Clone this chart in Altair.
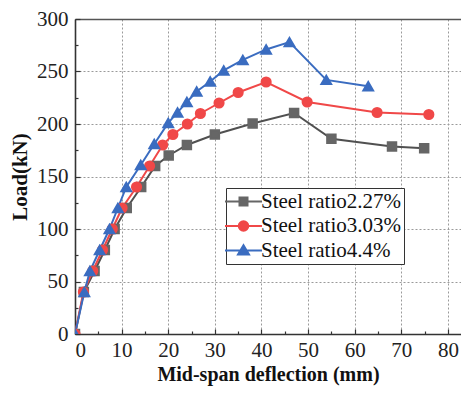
import altair as alt
import pandas as pd

series_names = ["Steel ratio2.27%", "Steel ratio3.03%", "Steel ratio4.4%"]

gray_x = [0, 1.9, 4.2, 6.4, 8.5, 11.1, 14.2, 17.2, 20.1, 24.0, 30.0, 38.1, 47.0, 55.0, 68.0, 74.9]
gray_y = [0, 40, 60, 80, 100, 120, 140, 160, 170, 180, 190, 200.5, 210.5, 186, 178.5, 176.8]

red_x = [0, 1.8, 3.8, 5.9, 8.0, 10.1, 13.2, 16.0, 18.8, 21.0, 24.1, 26.9, 30.9, 35.0, 41.0, 49.8, 64.8, 75.9]
red_y = [0, 40, 60, 80, 100, 120, 140, 160, 180, 190, 200, 210, 220, 230, 240, 221, 211, 209]

blue_x = [0, 2.0, 3.2, 5.3, 7.4, 9.2, 11.0, 14.1, 17.0, 20.0, 22.0, 24.0, 26.1, 29.0, 31.9, 36.0, 41.0, 46.0, 53.9, 62.9]
blue_y = [0, 40, 60, 80, 100, 120, 140, 161, 181, 201, 211, 221, 231, 240.5, 251, 261, 271, 278, 242, 236]

x_major = [0, 10, 20, 30, 40, 50, 60, 70, 80]
x_minor = [5, 15, 25, 35, 45, 55, 65, 75]
y_major = [0, 50, 100, 150, 200, 250, 300]
y_minor = [25, 75, 125, 175, 225, 275]

rows = []
for name, xv, yv in zip(series_names, [gray_x, red_x, blue_x], [gray_y, red_y, blue_y]):
    for i, (a, b) in enumerate(zip(xv, yv)):
        rows.append({"series": name, "line_series": name, "shape_series": name,
                     "size_series": name, "x": a, "y": b, "i": i})
df = pd.DataFrame(rows)

W, H = 386, 315
FONT = "Liberation Serif"

xs = alt.Scale(domain=[0, 82.8], nice=False, zero=False)
ys = alt.Scale(domain=[0, 300], nice=False, zero=False)

line_colors = ["#505050", "#f04848", "#3a6cc0"]
point_colors = ["#666666", "#f04848", "#3a6cc0"]
color_scale = alt.Scale(domain=series_names, range=point_colors)
line_color_scale = alt.Scale(range=line_colors)
shape_scale = alt.Scale(range=["square", "circle", "triangle-up"])
size_scale = alt.Scale(range=[72, 95, 105])

shape_expr = (
    "datum.value == '" + series_names[0] + "' ? 'M-3.7,0H3.7M-0.8,-0.8H0.8V0.8H-0.8Z' : "
    "datum.value == '" + series_names[1] + "' ? 'M-3.7,0H3.7M-0.95,0A0.95,0.95,0,1,1,0.95,0A0.95,0.95,0,1,1,-0.95,0Z' : "
    "'M-3.7,0H3.7M0,-1.05L1.1,0.8H-1.1Z'"
)

legend = alt.Legend(
    title=None, orient="none", legendX=151, legendY=169,
    labelFont=FONT, labelFontSize=21, labelColor="#111111", labelLimit=400,
    symbolType=alt.ExprRef(shape_expr),
    symbolSize=100, symbolStrokeWidth=2, symbolOffset=4, labelOffset=7,
    rowPadding=2.5, padding=3, strokeColor="#333333", fillColor="white",
)

bottom_axis = alt.Axis(
    orient="bottom", values=x_major, format="d",
    grid=True, gridColor="#9a9a9a", gridDash=[2, 2], gridWidth=1,
    ticks=False, domainColor="#333333", domainWidth=1.6,
    labelFont=FONT, labelFontSize=21, labelColor="#222222", labelPadding=5,
    title="Mid-span deflection (mm)", titleFont=FONT, titleFontSize=20,
    titleFontWeight="bold", titlePadding=4, titleColor="#111111",
)
left_axis = alt.Axis(
    orient="left", values=y_major, format="d",
    grid=True, gridColor="#9a9a9a", gridDash=[2, 2], gridWidth=1,
    ticks=False, domainColor="#333333", domainWidth=1.6,
    labelFont=FONT, labelFontSize=21, labelColor="#222222", labelPadding=7,
    title="Load(kN)", titleFont=FONT, titleFontSize=21,
    titleFontWeight="bold", titlePadding=6, titleColor="#111111",
)

base = alt.Chart(df)

lines = base.mark_line(strokeWidth=2, clip=True).encode(
    x=alt.X("x:Q", scale=xs, axis=bottom_axis),
    y=alt.Y("y:Q", scale=ys, axis=left_axis),
    color=alt.Color("line_series:N", scale=line_color_scale, legend=None),
    order="i:Q",
)

points = base.mark_point(strokeWidth=2, opacity=1, clip=True).encode(
    x=alt.X("x:Q", scale=xs, axis=None),
    y=alt.Y("y:Q", scale=ys, axis=None),
    fill=alt.Fill("series:N", scale=color_scale, legend=legend),
    stroke=alt.Stroke("series:N", scale=color_scale, legend=legend),
    shape=alt.Shape("shape_series:N", scale=shape_scale, legend=None),
    size=alt.Size("size_series:N", scale=size_scale, legend=None),
)


def tick_layer(xvals, yvals, size):
    return base.mark_point(opacity=0).encode(
        x=alt.X("x:Q", scale=xs, axis=alt.Axis(
            orient="top", offset=-H, values=xvals, labels=False, ticks=True,
            tickSize=size, tickColor="#333333", tickWidth=1.2,
            domain=False, grid=False, title=None)),
        y=alt.Y("y:Q", scale=ys, axis=alt.Axis(
            orient="right", offset=-W, values=yvals, labels=False, ticks=True,
            tickSize=size, tickColor="#333333", tickWidth=1.2,
            domain=False, grid=False, title=None)),
    )


major_ticks = tick_layer(x_major, y_major, 5)
minor_ticks = tick_layer(x_minor, y_minor, 3)

frame = base.mark_point(opacity=0).encode(
    x=alt.X("x:Q", scale=xs, axis=alt.Axis(
        orient="top", labels=False, ticks=False, grid=False,
        domain=True, domainColor="#555555", domainWidth=1.3, title=None)),
    y=alt.Y("y:Q", scale=ys, axis=None),
)

chart = alt.layer(lines, points, major_ticks, minor_ticks, frame).resolve_axis(
    x="independent", y="independent"
).properties(
    width=W, height=H,
    padding={"left": 67, "top": 11, "right": 0, "bottom": 56},
    autosize=alt.AutoSizeParams(type="none"),
    background="white",
).configure_view(
    stroke="transparent"
).configure_legend(
    labelFont=FONT, labelFontSize=21
).configure_text(font=FONT)

chart.save("out.html", embed_options={"renderer": "svg", "actions": False})
